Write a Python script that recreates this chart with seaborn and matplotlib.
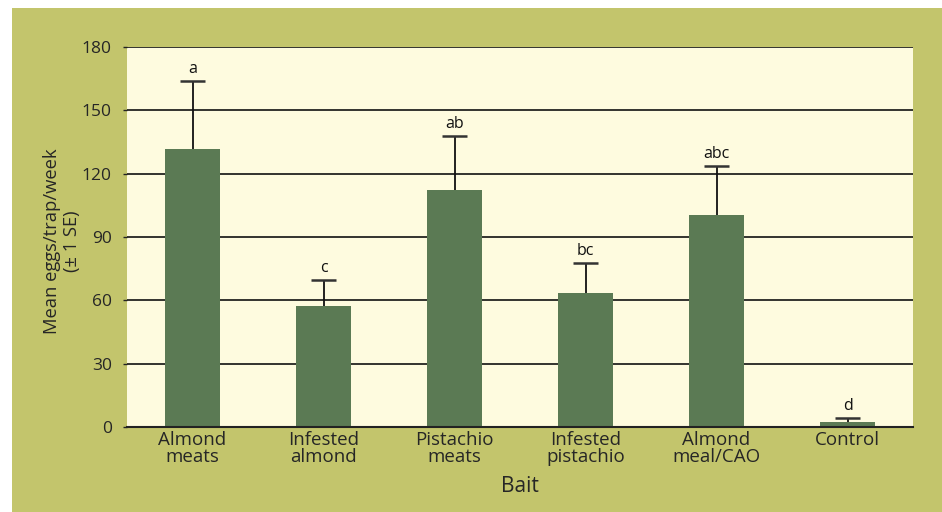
import numpy as np
import pandas as pd
import matplotlib
matplotlib.use("Agg")
import matplotlib.pyplot as plt
from matplotlib.patches import Rectangle
import seaborn as sns

# values
baits = ["Almond\nmeats", "Infested\nalmond", "Pistachio\nmeats",
         "Infested\npistachio", "Almond\nmeal/CAO", "Control"]
means = [131.5, 57.5, 112.3, 63.6, 100.4, 2.4]
se = [32.5, 12.3, 25.5, 14.2, 23.4, 2.0]
letters = ["a", "c", "ab", "bc", "abc", "d"]
yticks = [0, 30, 60, 90, 120, 150, 180]

olive = "#C3C56C"
panel = "#FEFBDF"
bar_col = "#5B7A54"

data = pd.DataFrame({"bait": baits, "mean": means, "se": se})

sns.set_style("white")
plt.rcParams["font.family"] = ["Open Sans", "DejaVu Sans"]

fig = plt.figure(figsize=(9.42, 5.12), dpi=100)
fig.patch.set_facecolor("white")
fig.patches.append(Rectangle((12 / 942, 0), 1 - 12 / 942, 1 - 8 / 512,
                             transform=fig.transFigure, facecolor=olive,
                             edgecolor="none", zorder=-10))

ax = fig.add_axes([127 / 942, 85 / 512, 786 / 942, 380 / 512])
ax.set_facecolor(panel)

sns.barplot(data=data, x="bait", y="mean", color=bar_col, width=0.42,
            errorbar=None, saturation=1, linewidth=0, ax=ax)

# upper error bars only, with caps
xpos = np.arange(len(baits))
tops = data["mean"] + data["se"]
ax.vlines(xpos, data["mean"], tops, color="#111111", linewidth=1.3, zorder=2)
ax.hlines(tops, xpos - 0.092, xpos + 0.092, color="#333333", linewidth=1.8,
          zorder=2)

for x, t, lab in zip(xpos, tops, letters):
    ax.text(x, t + 1.8, lab, ha="center", va="bottom", fontsize=11.5,
            color="#111111")

ax.set_ylim(0, 180)
ax.set_xlim(-0.5, len(baits) - 0.5)
ax.set_yticks(yticks)
for t in yticks[1:]:
    ax.axhline(t, color="#111111", linewidth=1.2, zorder=0.5)

for side in ["top", "right", "left"]:
    ax.spines[side].set_visible(False)
ax.spines["bottom"].set_color("#222222")
ax.spines["bottom"].set_linewidth(1.5)
ax.spines["bottom"].set_zorder(4)

ax.tick_params(axis="y", length=3, width=1, color="#222222", labelsize=12.5,
               pad=8, left=True)
ax.tick_params(axis="x", length=0, labelsize=13.5, pad=3)
for lab in ax.get_xticklabels():
    lab.set_linespacing(0.95)

ax.set_xlabel("Bait", fontsize=15, labelpad=7)
ax.set_ylabel("Mean eggs/trap/week\n(\u00b1 1 SE)", fontsize=13.2,
              linespacing=1.15)
ax.yaxis.set_label_coords(-0.058, 0.49)

fig.savefig("out.png", dpi=100, facecolor=fig.get_facecolor())
